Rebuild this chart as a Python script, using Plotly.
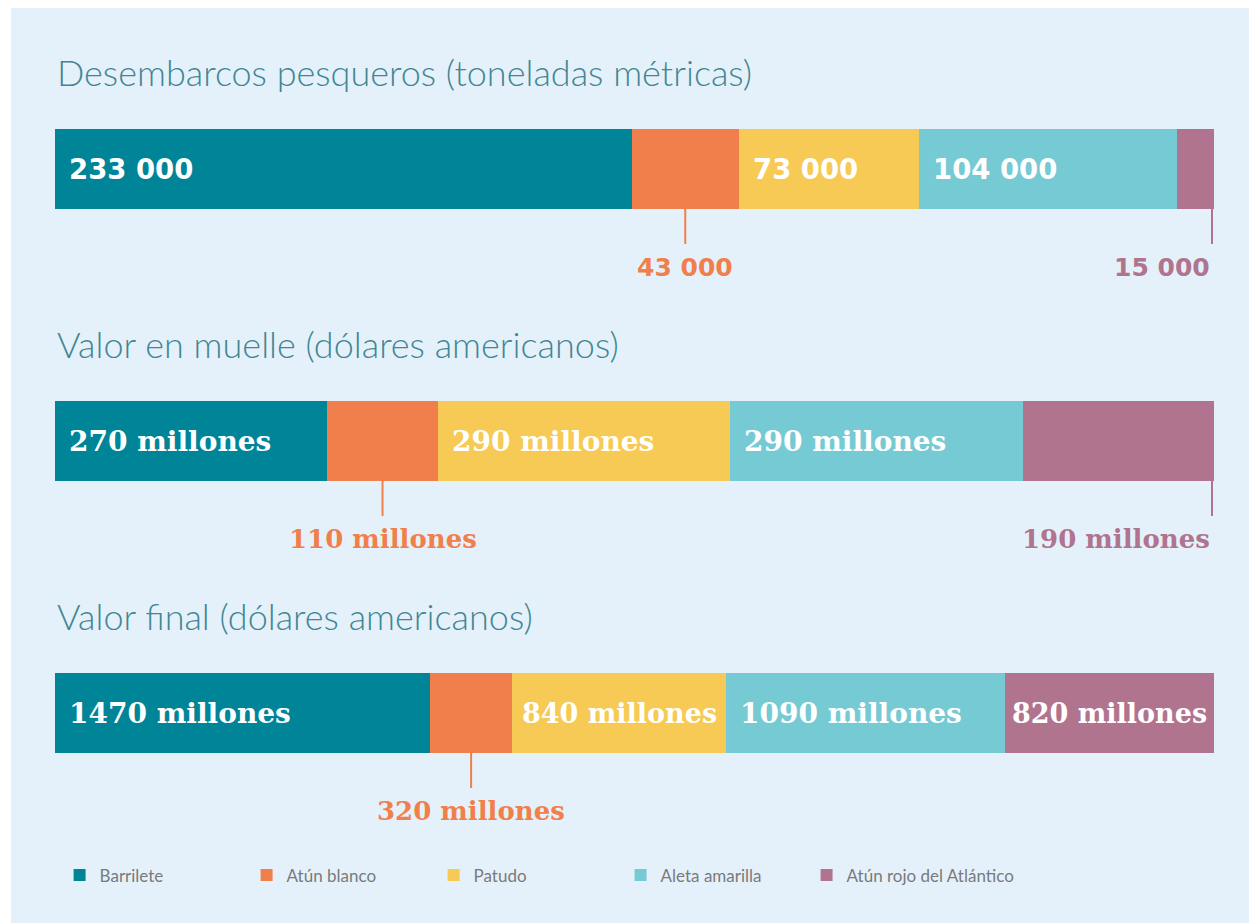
import numpy as np
import plotly.graph_objects as go

# ---------------- data ----------------
species = ["Barrilete", "Atún blanco", "Patudo", "Aleta amarilla", "Atún rojo del Atlántico"]
metric_titles = [
    "Desembarcos pesqueros (toneladas métricas)",
    "Valor en muelle (dólares americanos)",
    "Valor final (dólares americanos)",
]
landings_t = [233000, 43000, 73000, 104000, 15000]
dock_value_musd = [270, 110, 290, 290, 190]
final_value_musd = [1470, 320, 840, 1090, 820]

landings_labels = ["233 000", "43 000", "73 000", "104 000", "15 000"]
dock_labels = ["270 millones", "110 millones", "290 millones", "290 millones", "190 millones"]
final_labels = ["1470 millones", "320 millones", "840 millones", "1090 millones", "820 millones"]

# ---------------- styles ----------------
colors = ["#008497", "#f17f4c", "#f6ca55", "#76cad4", "#b0748f"]
placement = [
    ["in-left", "out-center", "in-left", "in-left", "out-right"],
    ["in-left", "out-center", "in-left", "in-left", "out-right"],
    ["in-left", "out-center", "in-center", "in-left", "in-center"],
]
label_fonts = ["DejaVu Sans", "DejaVu Serif", "DejaVu Serif"]
inside_sizes = [27.5, 28, 28]
outside_sizes = [25, 26, 26]
legend_ids = ["legend", "legend", "legend", "legend", "legend2"]
bg = "#e5f1fa"
title_color = "#418694"

rows = [landings_t, dock_value_musd, final_value_musd]
row_labels = [landings_labels, dock_labels, final_labels]
y_pos = [0, 1, 2]

fig = go.Figure()
for k, sp in enumerate(species):
    fig.add_trace(go.Bar(
        y=y_pos,
        x=[rows[r][k] for r in range(3)],
        orientation="h",
        name=sp,
        legend=legend_ids[k],
        marker=dict(color=colors[k], line=dict(width=0)),
        width=0.294,
        hoverinfo="skip",
    ))

annotations = []
shapes = []
for r in range(3):
    vals = np.array(rows[r], dtype=float)
    frac = vals / vals.sum()
    ends = np.cumsum(frac)
    starts = ends - frac
    annotations.append(dict(
        x=0, y=r, xref="x", yref="y", xanchor="left", yanchor="middle",
        xshift=0, yshift=97, showarrow=False,
        text=metric_titles[r],
        font=dict(family="Lato", size=36, color=title_color, weight=300),
    ))
    for k in range(5):
        mode = placement[r][k]
        txt = row_labels[r][k]
        if mode == "in-left":
            annotations.append(dict(
                x=starts[k], y=r, xref="x", yref="y", xanchor="left", yanchor="middle",
                xshift=12, showarrow=False, text="<b>%s</b>" % txt,
                font=dict(family=label_fonts[r], size=inside_sizes[r], color="white"),
            ))
        elif mode == "in-center":
            annotations.append(dict(
                x=(starts[k] + ends[k]) / 2, y=r, xref="x", yref="y", xanchor="center",
                yanchor="middle", showarrow=False, text="<b>%s</b>" % txt,
                font=dict(family=label_fonts[r], size=inside_sizes[r] - 1, color="white"),
            ))
        else:
            if mode == "out-center":
                xa = (starts[k] + ends[k]) / 2
                xanchor = "center"
                px = 0
            else:
                xa = ends[k]
                xanchor = "right"
                px = -2
            shapes.append(dict(
                type="line", xref="x", yref="y",
                xsizemode="pixel", ysizemode="pixel",
                xanchor=xa, yanchor=r,
                x0=px, x1=px, y0=-40, y1=-75,
                line=dict(color=colors[k], width=2),
            ))
            annotations.append(dict(
                x=xa, y=r, xref="x", yref="y", xanchor=xanchor, yanchor="middle",
                xshift=px, yshift=-98, showarrow=False, text="<b>%s</b>" % txt,
                font=dict(family=label_fonts[r], size=outside_sizes[r], color=colors[k]),
            ))

legend_font = dict(family="Lato", size=17, color="#7a7a7a")
fig.update_layout(
    width=1249, height=915,
    margin=dict(l=3, r=0, t=0, b=0, pad=0),
    paper_bgcolor="white",
    plot_bgcolor=bg,
    barmode="stack",
    barnorm="fraction",
    bargap=0,
    showlegend=True,
    legend=dict(
        orientation="h", x=0.039, y=0.052, xanchor="left", yanchor="middle",
        entrywidth=142, entrywidthmode="pixels",
        font=legend_font, bgcolor="rgba(0,0,0,0)", traceorder="normal",
    ),
    legend2=dict(
        orientation="h", x=0.6385, y=0.052, xanchor="left", yanchor="middle",
        font=legend_font, bgcolor="rgba(0,0,0,0)",
    ),
    xaxis=dict(range=[-0.03796, 1.03710], visible=False, fixedrange=True),
    yaxis=dict(range=[2.772, -0.5919], visible=False, fixedrange=True),
    annotations=annotations,
    shapes=shapes,
)

fig.write_html("out.html")
